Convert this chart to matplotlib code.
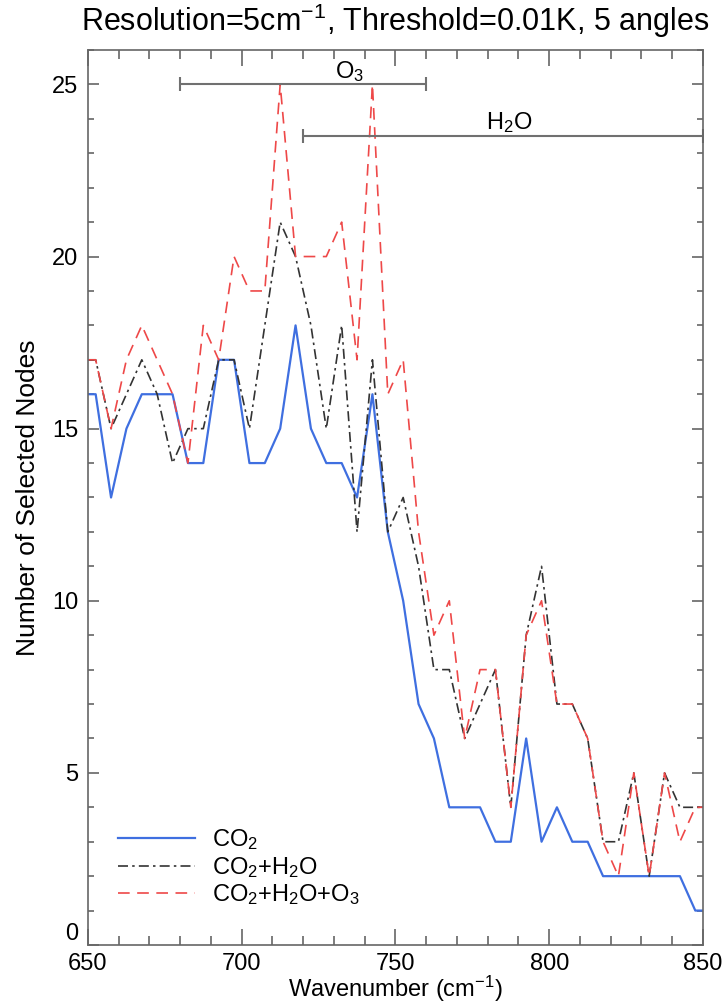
import numpy as np
import matplotlib
matplotlib.use("Agg")
import matplotlib.pyplot as plt
from matplotlib.ticker import MultipleLocator

plt.rcParams['font.family'] = ['Liberation Sans', 'DejaVu Sans']
plt.rcParams['mathtext.default'] = 'regular'

# bin centres of the 5 cm-1 channels
wavenumber = np.arange(652.5, 850, 5.0)

co2 = [16, 13, 15, 16, 16, 16, 14, 14, 17, 17,
       14, 14, 15, 18, 15, 14, 14, 13, 16, 12,
       10, 7, 6, 4, 4, 4, 3, 3, 6, 3,
       4, 3, 3, 2, 2, 2, 2, 2, 2, 1]
co2_h2o = [17, 15, 16, 17, 16, 14, 15, 15, 17, 17,
           15, 18, 21, 20, 18, 15, 18, 12, 17, 12,
           13, 11, 8, 8, 6, 7, 8, 4, 9, 11,
           7, 7, 6, 3, 3, 5, 2, 5, 4, 4]
co2_h2o_o3 = [17, 15, 17, 18, 17, 16, 14, 18, 17, 20,
              19, 19, 25, 20, 20, 20, 21, 17, 25, 16,
              17, 12, 9, 10, 6, 8, 8, 4, 9, 10,
              7, 7, 6, 3, 2, 5, 2, 5, 3, 4]

# absorber bands marked above the curves
band_names = ['O$_3$', 'H$_2$O']
band_lo = [680, 720]
band_hi = [760, 850]
band_level = [25.0, 23.5]
band_label_x = [735, 787]


def edges(y):
    # hold the first/last channel value out to the plot edges
    x = np.r_[650, wavenumber, 850]
    return x, np.r_[y[0], y, y[-1]]


fig = plt.figure(figsize=(7.26, 10.08), dpi=100)
ax = fig.add_axes([0.1212, 0.0625, 0.8471, 0.8879])

x, y = edges(co2)
ax.plot(x, y, color='#3f6fe0', lw=1.6, label='CO$_2$')
x, y = edges(co2_h2o)
ax.plot(x, y, color='#333333', lw=1.2, dashes=(6, 2.5, 1.5, 2.5),
        label='CO$_2$+H$_2$O')
x, y = edges(co2_h2o_o3)
ax.plot(x, y, color='#ee4848', lw=1.2, dashes=(7, 4.5),
        label='CO$_2$+H$_2$O+O$_3$')

for name, lo, hi, lev, lx in zip(band_names, band_lo, band_hi, band_level, band_label_x):
    ax.errorbar([(lo + hi) / 2], [lev], xerr=[(hi - lo) / 2], fmt='none',
                ecolor='#707070', elinewidth=1.5, capsize=5, capthick=1.5)
    ax.text(lx, lev + 0.02, name, ha='center', va='bottom', fontsize=17)

ax.set_xlim(650, 850)
ax.set_ylim(0, 26)
ax.xaxis.set_major_locator(MultipleLocator(50))
ax.xaxis.set_minor_locator(MultipleLocator(10))
ax.yaxis.set_major_locator(MultipleLocator(5))
ax.yaxis.set_minor_locator(MultipleLocator(1))
ax.tick_params(axis='both', which='both', direction='in', top=True, right=True,
               color='#666666', width=1.2, labelsize=17)
ax.tick_params(axis='x', which='major', length=11.5, pad=6)
ax.tick_params(axis='x', which='minor', length=6.5)
ax.tick_params(axis='y', which='major', length=8, pad=7)
ax.tick_params(axis='y', which='minor', length=4.5)
for s in ax.spines.values():
    s.set_color('#666666')
    s.set_linewidth(1.2)

ax.set_xlabel('Wavenumber (cm$^{-1}$)', fontsize=17, labelpad=-1)
ax.set_ylabel('Number of Selected Nodes', fontsize=19, labelpad=9)
ax.set_title('Resolution=5cm$^{-1}$, Threshold=0.01K, 5 angles',
             fontsize=22, pad=14)

ax.legend(loc='lower left', bbox_to_anchor=(0.048, 0.042), frameon=False,
          fontsize=17, handlelength=3.3, handletextpad=0.7, labelspacing=0.12,
          borderpad=0, borderaxespad=0)

# lift the "0" label so it sits clear of the x tick labels
fig.canvas.draw()
for t in ax.yaxis.get_major_ticks():
    if abs(t.get_loc()) < 1e-9:
        t.label1.set_va('bottom')

plt.savefig('out.png', dpi=100)
